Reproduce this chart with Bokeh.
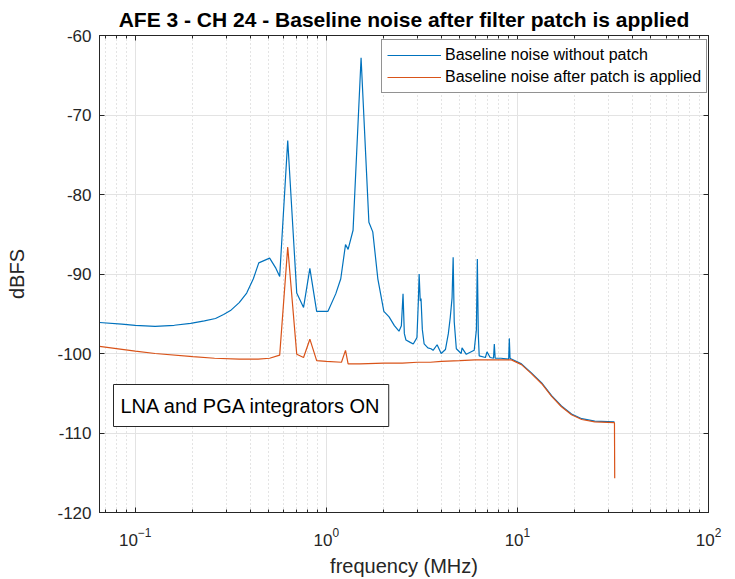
from bokeh.plotting import figure
from bokeh.models import Range1d, Label, LinearAxis, LogAxis, FixedTicker
from bokeh.embed import file_html
from bokeh.resources import INLINE

title_text = "AFE 3 - CH 24 - Baseline noise after filter patch is applied"
x_label = "frequency (MHz)"
y_label = "dBFS"
series_names = ["Baseline noise without patch", "Baseline noise after patch is applied"]
box_text = "LNA and PGA integrators ON"

x_major_ticks = [0.1, 1, 10, 100]
y_ticks = [-120, -110, -100, -90, -80, -70, -60]

freq_blue = [0.065, 0.085, 0.10, 0.127, 0.16, 0.195, 0.23, 0.263, 0.29, 0.315, 0.35, 0.383,
             0.415, 0.443, 0.505, 0.545, 0.57, 0.628, 0.70, 0.76, 0.82, 0.89, 1.02, 1.12,
             1.19, 1.26, 1.30, 1.38, 1.52, 1.67, 1.75, 1.86, 2.0, 2.13, 2.27, 2.40, 2.47,
             2.52, 2.56, 2.61, 2.75, 2.85, 2.98, 3.03, 3.06, 3.10, 3.13, 3.18, 3.25, 3.4,
             3.53, 3.62, 3.8, 3.99, 4.2, 4.35, 4.45, 4.55, 4.61, 4.67, 4.79, 5.08, 5.13,
             5.4, 5.94, 6.10, 6.17, 6.24, 6.31, 6.8, 6.93, 7.2, 7.5, 7.57, 7.65, 8.2, 9.0,
             9.07, 9.15, 9.3, 10.5, 11.8, 13.4, 15.1, 17.0, 19.2, 21.7, 25.4, 32.2]
db_blue = [-96.1, -96.3, -96.45, -96.6, -96.45, -96.2, -95.9, -95.6, -95.1, -94.6, -93.6, -92.4,
           -90.6, -88.6, -88.0, -89.3, -90.3, -73.2, -92.4, -94.2, -89.3, -94.7, -94.7, -92.5,
           -90.6, -86.3, -86.9, -84.5, -62.8, -83.5, -84.7, -90.6, -94.7, -95.4, -96.5, -97.2, -96.5,
           -92.5, -97.5, -98.3, -98.6, -98.8, -98.0, -93.5, -90.0, -93.4, -93.1, -97.0, -98.8, -99.3,
           -99.4, -99.6, -98.9, -100.0, -99.5, -97.5, -95.5, -93.0, -87.9, -96.0, -99.4, -100.0, -99.3,
           -100.1, -99.6, -97.0, -88.1, -97.5, -100.3, -100.5, -99.8, -100.5, -100.6, -98.8, -100.6, -100.6, -100.7,
           -98.1, -100.6, -100.7, -101.3, -102.4, -103.7, -105.3, -106.6, -107.6, -108.2, -108.5, -108.6]

freq_orange = [0.065, 0.1, 0.127, 0.2, 0.26, 0.35, 0.44, 0.505, 0.57, 0.628, 0.70, 0.76, 0.82,
               0.89, 1.0, 1.2, 1.26, 1.30, 1.5, 2.0, 2.5, 3.0, 3.5, 4.0, 5.0, 6.0, 7.0, 8.0,
               9.3, 10.5, 11.8, 13.4, 15.1, 17.0, 19.2, 21.7, 25.4, 32.2, 32.3]
db_orange = [-99.1, -99.7, -100.0, -100.4, -100.6, -100.7, -100.7, -100.6, -100.2, -86.6, -100.1, -100.5, -98.2,
             -100.9, -101.0, -101.1, -99.6, -101.3, -101.3, -101.2, -101.2, -101.1, -101.1, -101.0, -100.9, -100.8, -100.8, -100.8,
             -100.8, -101.4, -102.5, -103.8, -105.4, -106.7, -107.7, -108.3, -108.6, -108.7, -115.7]

FONT = "Liberation Sans"
TXT = "#262626"

p = figure(width=728, height=579, x_axis_type="log",
           x_range=Range1d(0.065, 100), y_range=Range1d(-120, -60),
           output_backend="svg", toolbar_location=None,
           min_border_left=99, min_border_right=20, min_border_top=33, min_border_bottom=67)

p.title.text = title_text
p.title.align = "center"
p.title.text_font = FONT
p.title.text_font_size = "21px"
p.title.text_font_style = "bold"
p.title.text_color = "#000000"

minor = []
for d in [0.01, 0.1, 1, 10]:
    for k in range(2, 10):
        minor.append(d * k)

p.xaxis.ticker = FixedTicker(ticks=x_major_ticks, minor_ticks=minor)
p.yaxis.ticker = FixedTicker(ticks=y_ticks)
p.yaxis.major_label_overrides = {t: str(t) for t in y_ticks}

for ax in p.xaxis + p.yaxis:
    ax.major_label_text_font = FONT
    ax.major_label_text_font_size = "17px"
    ax.major_label_text_color = TXT
    ax.axis_label_text_font = FONT
    ax.axis_label_text_font_size = "20px"
    ax.axis_label_text_font_style = "normal"
    ax.axis_label_text_color = TXT
    ax.axis_line_color = TXT
    ax.major_tick_line_color = TXT
    ax.major_tick_in = 5
    ax.major_tick_out = 0
    ax.minor_tick_in = 3
    ax.minor_tick_out = 0
    ax.minor_tick_line_color = TXT

p.yaxis.minor_tick_line_color = None
p.xaxis.axis_label = x_label
p.yaxis.axis_label = y_label
p.xaxis.major_label_standoff = 15
p.xaxis.axis_label_standoff = 6
p.yaxis.major_label_standoff = 8
p.yaxis.axis_label_standoff = 26

# ticks on the top and right edges of the box
top = LogAxis(ticker=FixedTicker(ticks=x_major_ticks, minor_ticks=minor),
              major_label_text_font_size="1px", major_label_text_alpha=0,
              major_tick_in=5, major_tick_out=0, minor_tick_in=3, minor_tick_out=0,
              axis_line_color=TXT, major_tick_line_color=TXT, minor_tick_line_color=TXT,
              major_label_standoff=0)
p.add_layout(top, "above")
right = LinearAxis(ticker=FixedTicker(ticks=y_ticks),
                   major_label_text_font_size="1px", major_label_text_alpha=0,
                   major_tick_in=5, major_tick_out=0, minor_tick_line_color=None,
                   axis_line_color=TXT, major_tick_line_color=TXT, major_label_standoff=0)
p.add_layout(right, "right")

p.xgrid.grid_line_color = "#e3e3e3"
p.ygrid.grid_line_color = "#e3e3e3"
p.xgrid.minor_grid_line_color = "#c8c8c8"
p.xgrid.minor_grid_line_dash = "1 3"
p.outline_line_color = TXT

p.line(freq_blue, db_blue, color="#0072BD", line_width=1.2, legend_label=series_names[0])
p.line(freq_orange, db_orange, color="#D95319", line_width=1.2, legend_label=series_names[1])

lg = p.legend[0]
lg.location = (282, 419)
lg.label_text_font = FONT
lg.label_text_font_size = "16px"
lg.label_text_color = "#000000"
lg.glyph_width = 54
lg.label_standoff = 4
lg.label_height = 20
lg.spacing = 2
lg.padding = 5
lg.margin = 0
lg.border_line_color = TXT
lg.border_line_width = 1
lg.background_fill_alpha = 1

lbl = Label(x=14, y=86, x_units="screen", y_units="screen", text=box_text,
            text_font=FONT, text_font_size="20px", text_color="#000000",
            border_line_color=TXT, border_line_width=1,
            background_fill_color="white", padding=(7, 10))
p.add_layout(lbl)

open("out.html", "w").write(file_html(p, INLINE))
